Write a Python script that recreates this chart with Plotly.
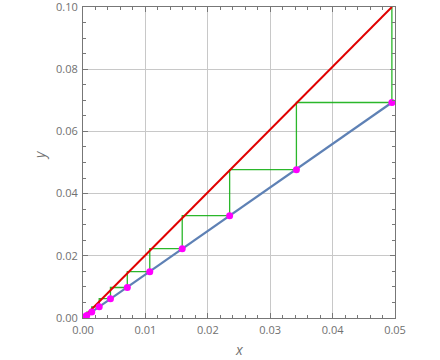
import plotly.graph_objects as go

# Data
red_x = [0.0, 0.0495]
red_y = [0.0, 0.1]
blue_x = [0.0, 0.0495]
blue_y = [0.0, 0.0693]
pts_x = [0.0495, 0.0342, 0.0235, 0.0159, 0.0107, 0.0071, 0.0044, 0.0026, 0.0014, 0.0006, 0.0002]
pts_y = [0.0693, 0.0477, 0.0329, 0.0223, 0.0149, 0.0098, 0.0062, 0.0036, 0.0019, 0.0008, 0.0003]
start_y = 0.1

x_ticks = [0.0, 0.01, 0.02, 0.03, 0.04, 0.05]
x_labels = ["0.00", "0.01", "0.02", "0.03", "0.04", "0.05"]
y_ticks = [0.0, 0.02, 0.04, 0.06, 0.08, 0.10]
y_labels = ["0.00", "0.02", "0.04", "0.06", "0.08", "0.10"]

# Cobweb path built from the points
cw_x = [pts_x[0]]
cw_y = [start_y]
for i in range(len(pts_x)):
    cw_x.append(pts_x[i]); cw_y.append(pts_y[i])
    if i + 1 < len(pts_x):
        cw_x.append(pts_x[i + 1]); cw_y.append(pts_y[i])

fig = go.Figure()
fig.add_trace(go.Scatter(x=blue_x, y=blue_y, mode="lines",
                         line=dict(color="#5e81b5", width=2.2), hoverinfo="skip"))
fig.add_trace(go.Scatter(x=cw_x, y=cw_y, mode="lines",
                         line=dict(color="rgba(20,175,20,0.9)", width=1.3), hoverinfo="skip"))
fig.add_trace(go.Scatter(x=red_x, y=red_y, mode="lines",
                         line=dict(color="#e00000", width=2), hoverinfo="skip"))
fig.add_trace(go.Scatter(x=pts_x, y=pts_y, mode="markers",
                         marker=dict(color="#ff00ff", size=7), hoverinfo="skip"))

axis_common = dict(
    showgrid=True, gridcolor="#c8c8c8", gridwidth=1,
    showline=True, linecolor="#777777", linewidth=1, mirror="allticks",
    ticks="inside", ticklen=5, tickcolor="#777777",
    zeroline=False, automargin=False, ticklabeloverflow="allow",
    ticklabelstandoff=2,
    tickfont=dict(family="Open Sans", size=11, color="#707070"),
)

fig.update_layout(
    width=440, height=360,
    margin=dict(l=83, r=45, t=7, b=42),
    paper_bgcolor="white", plot_bgcolor="white",
    showlegend=False,
    xaxis=dict(range=[0, 0.05], tickvals=x_ticks, ticktext=x_labels,
               minor=dict(dtick=0.002, ticks="inside", ticklen=3, tickcolor="#777777", showgrid=False),
               **axis_common),
    yaxis=dict(range=[0, 0.1], tickvals=y_ticks, ticktext=y_labels,
               minor=dict(dtick=0.005, ticks="inside", ticklen=3, tickcolor="#777777", showgrid=False),
               **axis_common),
    annotations=[
        dict(text="<i>x</i>", xref="paper", yref="paper", x=0.5, y=-0.1, yanchor="middle",
             xanchor="center", showarrow=False,
             font=dict(family="Open Sans", size=14, color="#707070")),
        dict(text="<i>y</i>", xref="paper", yref="paper", x=-0.14, y=0.525, xanchor="center",
             yanchor="middle", textangle=-90, showarrow=False,
             font=dict(family="Open Sans", size=14, color="#707070")),
    ],
)

fig.write_html("out.html", config={"displayModeBar": False},
               post_script="document.body.style.margin='0';")
